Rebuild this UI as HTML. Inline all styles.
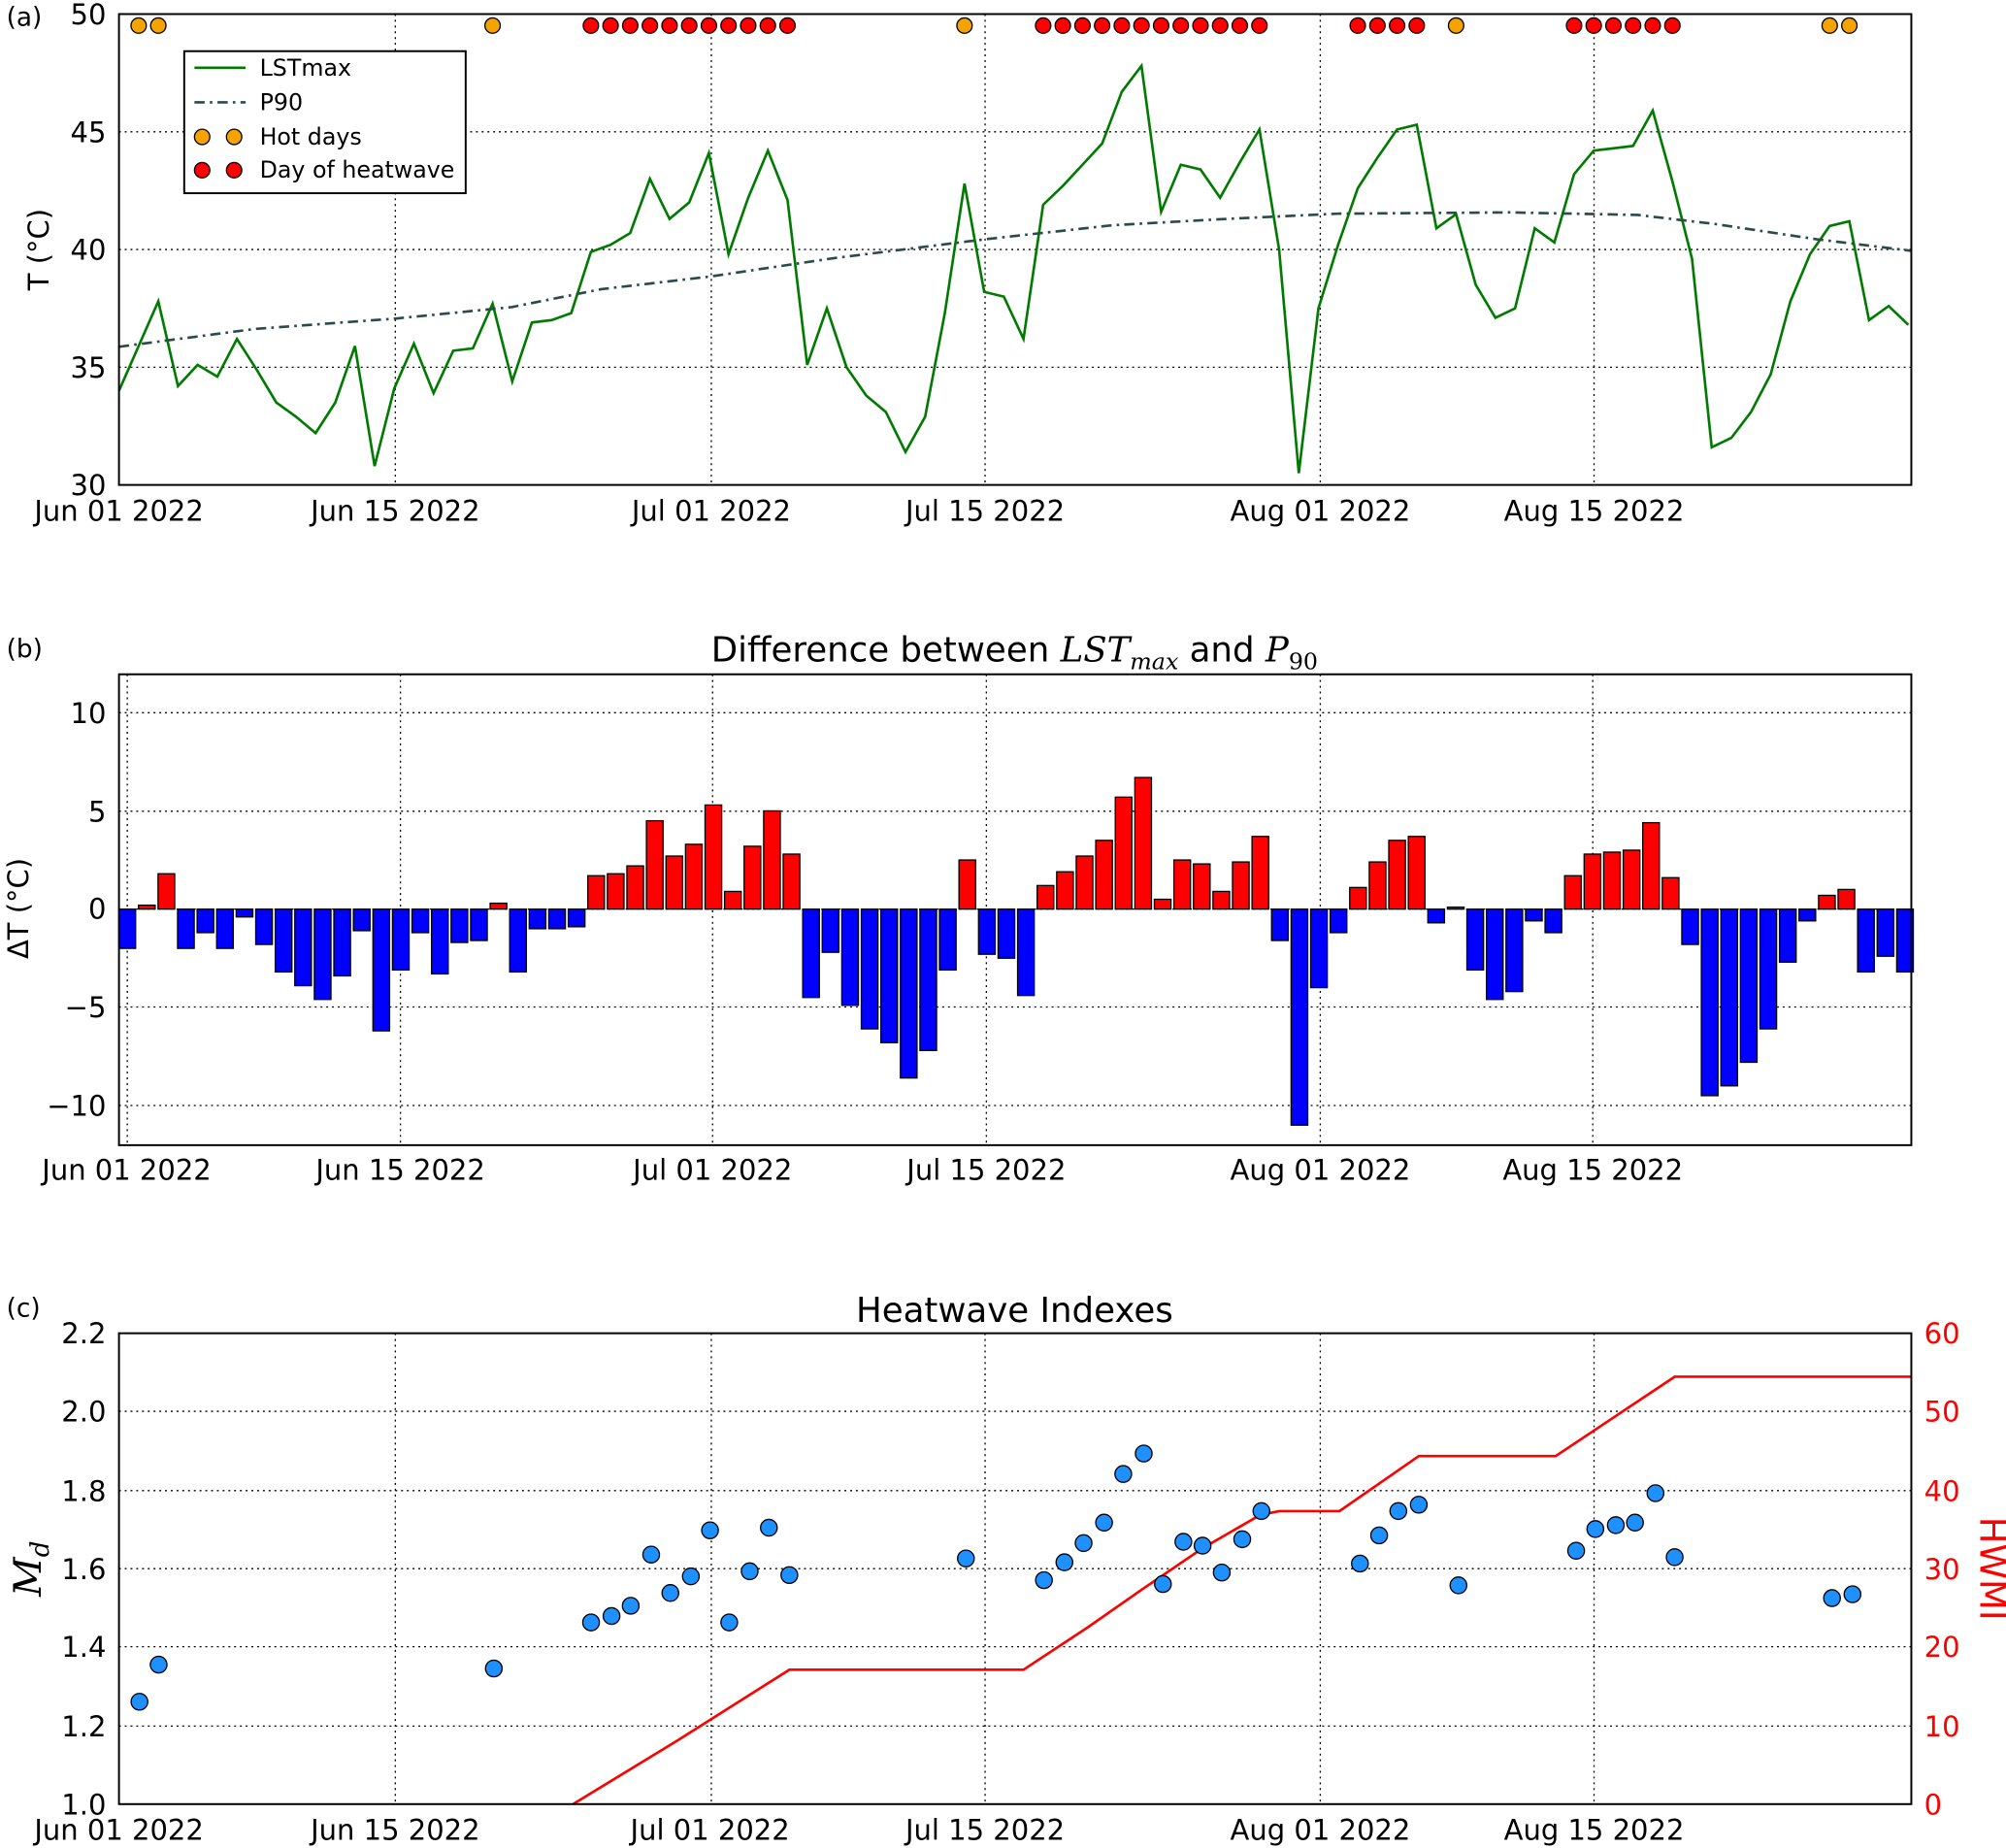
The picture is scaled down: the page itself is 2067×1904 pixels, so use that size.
<!DOCTYPE html>
<html><head><meta charset="utf-8"><style>body{margin:0;background:#fff}svg{display:block}text{font-family:"DejaVu Sans","Liberation Sans",sans-serif;fill:#000}</style></head>
<body>
<svg id="s" xmlns="http://www.w3.org/2000/svg" width="2067" height="1904" viewBox="0 0 1568 1444.3" preserveAspectRatio="none">
<rect width="1568" height="1445" fill="#fff"/>
<g id="grid" stroke="#000" stroke-width="1" stroke-dasharray="1.5,3"></g>
<g id="plot"></g>
<rect x="93" y="11" width="1401" height="368" fill="none" stroke="#000" stroke-width="1.5"/>
<rect x="93" y="527" width="1401" height="368" fill="none" stroke="#000" stroke-width="1.5"/>
<rect x="93" y="1042" width="1401" height="368" fill="none" stroke="#000" stroke-width="1.5"/>
<g font-size="22">
<text x="5" y="20" font-size="20">(a)</text>
<g text-anchor="end"><text x="83" y="19">50</text><text x="83" y="111">45</text><text x="83" y="203">40</text><text x="83" y="295">35</text><text x="83" y="387">30</text></g>
<g text-anchor="middle"><text x="93" y="407">Jun 01 2022</text><text x="309" y="407">Jun 15 2022</text><text x="556" y="407">Jul 01 2022</text><text x="770" y="407">Jul 15 2022</text><text x="1032" y="407">Aug 01 2022</text><text x="1246" y="407">Aug 15 2022</text></g>
<text transform="translate(38,195) rotate(-90)" text-anchor="middle">T (°C)</text>
<text x="5" y="514" font-size="20">(b)</text>
<text x="793" y="517" text-anchor="middle" font-size="27">Difference between <tspan font-family="DejaVu Serif,serif" font-style="italic">LST</tspan><tspan font-family="DejaVu Serif,serif" font-style="italic" font-size="18" dy="6">max</tspan><tspan dy="-6"> and </tspan><tspan font-family="DejaVu Serif,serif" font-style="italic">P</tspan><tspan font-family="DejaVu Serif,serif" font-size="18" dy="6">90</tspan></text>
<g text-anchor="end"><text x="83" y="565">10</text><text x="83" y="642">5</text><text x="83" y="718">0</text><text x="83" y="795">−5</text><text x="83" y="872">−10</text></g>
<g text-anchor="middle"><text x="99" y="922">Jun 01 2022</text><text x="313" y="922">Jun 15 2022</text><text x="557" y="922">Jul 01 2022</text><text x="771" y="922">Jul 15 2022</text><text x="1032" y="922">Aug 01 2022</text><text x="1245" y="922">Aug 15 2022</text></g>
<text transform="translate(22,710) rotate(-90)" text-anchor="middle">ΔT (°C)</text>
<text x="5" y="1029" font-size="20">(c)</text>
<text x="793" y="1033" text-anchor="middle" font-size="27">Heatwave Indexes</text>
<g text-anchor="end"><text x="83" y="1050">2.2</text><text x="83" y="1111">2.0</text><text x="83" y="1173">1.8</text><text x="83" y="1234">1.6</text><text x="83" y="1295">1.4</text><text x="83" y="1357">1.2</text><text x="83" y="1418">1.0</text></g>
<g style="fill:#f00"><text x="1504" y="1050" style="fill:#f00">60</text><text x="1504" y="1111" style="fill:#f00">50</text><text x="1504" y="1173" style="fill:#f00">40</text><text x="1504" y="1234" style="fill:#f00">30</text><text x="1504" y="1295" style="fill:#f00">20</text><text x="1504" y="1357" style="fill:#f00">10</text><text x="1504" y="1418" style="fill:#f00">0</text></g>
<g text-anchor="middle"><text x="93" y="1438">Jun 01 2022</text><text x="309" y="1438">Jun 15 2022</text><text x="555" y="1438">Jul 01 2022</text><text x="770" y="1438">Jul 15 2022</text><text x="1032" y="1438">Aug 01 2022</text><text x="1246" y="1438">Aug 15 2022</text></g>
<text transform="translate(32,1226) rotate(-90)" text-anchor="middle" font-family="DejaVu Serif,serif" font-style="italic" font-size="30" style="font-family:'DejaVu Serif',serif">M<tspan font-size="20" dy="6">d</tspan></text>
<text transform="translate(1548,1226) rotate(90)" text-anchor="middle" font-size="28" style="fill:#f00">HWMI</text>
<rect x="144" y="40" width="220" height="111" fill="#fff" stroke="#000" stroke-width="1.5"/>
<line x1="152" y1="53" x2="192" y2="53" stroke="#007a00" stroke-width="2"/>
<line x1="152" y1="80" x2="192" y2="80" stroke="#2b4b4b" stroke-width="2" stroke-dasharray="8,4,2,4"/>
<circle cx="158" cy="107" r="6" fill="#f5a300" stroke="#000"/><circle cx="183" cy="107" r="6" fill="#f5a300" stroke="#000"/>
<circle cx="158" cy="133" r="6" fill="#f00" stroke="#000"/><circle cx="183" cy="133" r="6" fill="#f00" stroke="#000"/>
<g font-size="18"><text x="203" y="59">LSTmax</text><text x="203" y="86">P90</text><text x="203" y="113">Hot days</text><text x="203" y="139">Day of heatwave</text></g>
</g>
</svg>
<script>
const NS="http://www.w3.org/2000/svg";
const plot=document.getElementById('plot'),grid=document.getElementById('grid');
function el(t,a,p){const e=document.createElementNS(NS,t);for(const k in a)e.setAttribute(k,a[k]);(p||plot).appendChild(e);return e;}
[309,556,770,1032,1246].forEach(x=>{el('line',{x1:x,y1:11,x2:x,y2:379},grid);el('line',{x1:x,y1:1042,x2:x,y2:1410},grid);});
[313,557,771,1032,1245,99.5].forEach(x=>el('line',{x1:x,y1:527,x2:x,y2:895},grid));
[103,195,287].forEach(y=>el('line',{x1:93,y1:y,x2:1494,y2:y},grid));
[557,634,710.5,787,864].forEach(y=>el('line',{x1:93,y1:y,x2:1494,y2:y},grid));
[1103,1165,1226,1287,1349].forEach(y=>el('line',{x1:93,y1:y,x2:1494,y2:y},grid));
const L=[34.0,35.9,37.8,34.2,35.1,34.6,36.2,34.9,33.5,32.9,32.2,33.5,35.9,30.8,34.1,36.0,33.9,35.7,35.8,37.7,34.4,36.9,37.0,37.3,39.9,40.2,40.7,43.0,41.3,42.0,44.1,39.8,42.2,44.2,42.1,35.1,37.5,35.0,33.8,33.1,31.4,32.9,37.3,42.8,38.2,38.0,36.2,41.9,42.7,43.6,44.5,46.7,47.8,41.6,43.6,43.4,42.2,43.7,45.1,40.0,30.5,37.5,40.2,42.6,43.9,45.1,45.3,40.9,41.5,38.5,37.1,37.5,40.9,40.3,43.2,44.2,44.3,44.4,45.9,42.9,39.6,31.6,32.0,33.1,34.7,37.8,39.8,41.0,41.2,37.0,37.6,36.8];
const xa=d=>93+15.37*d, ya=t=>11+(50-t)*18.4;
el('polyline',{points:L.map((t,d)=>xa(d)+','+ya(t)).join(' '),fill:'none',stroke:'#007a00','stroke-width':2});
el('polyline',{points:'93,271 200,257 309,249 400,240 470,226 556,216 650,202 770,187 870,176 960,171 1045,167 1180,166 1280,168 1340,175 1420,187 1494,196',fill:'none',stroke:'#2b4b4b','stroke-width':2,'stroke-dasharray':'8,4,2,4'});
const hot=[1,2,19,43,68,87,88];
const hw=[];[[24,34],[47,58],[63,66],[74,79]].forEach(([a,b])=>{for(let i=a;i<=b;i++)hw.push(i);});
hot.forEach(d=>el('circle',{cx:xa(d),cy:20,r:6,fill:'#f5a300',stroke:'#000'}));
hw.forEach(d=>el('circle',{cx:xa(d),cy:20,r:6,fill:'#f00',stroke:'#000'}));
const D=[-2.0,0.2,1.8,-2.0,-1.2,-2.0,-0.4,-1.8,-3.2,-3.9,-4.6,-3.4,-1.1,-6.2,-3.1,-1.2,-3.3,-1.7,-1.6,0.3,-3.2,-1.0,-1.0,-0.9,1.7,1.8,2.2,4.5,2.7,3.3,5.3,0.9,3.2,5.0,2.8,-4.5,-2.2,-4.9,-6.1,-6.8,-8.6,-7.2,-3.1,2.5,-2.3,-2.5,-4.4,1.2,1.9,2.7,3.5,5.7,6.7,0.5,2.5,2.3,0.9,2.4,3.7,-1.6,-11.0,-4.0,-1.2,1.1,2.4,3.5,3.7,-0.7,0.1,-3.1,-4.6,-4.2,-0.6,-1.2,1.7,2.8,2.9,3.0,4.4,1.6,-1.8,-9.5,-9.0,-7.8,-6.1,-2.7,-0.6,0.7,1.0,-3.2,-2.4,-3.2];
D.forEach((v,d)=>{const cx=99.5+15.27*d,y0=710.5,y1=710.5-v*15.35;el('rect',{x:cx-6.5,y:Math.min(y0,y1),width:13,height:Math.abs(y1-y0),fill:v>=0?'#f00':'#00f',stroke:'#000','stroke-width':1});});
el('polyline',{points:'448,1410 530,1360 617,1305 800,1305 850,1272 893,1242 940,1210 985,1184 1000,1181 1047,1181 1109,1138 1216,1138 1309,1076 1494,1076',fill:'none',stroke:'#f00','stroke-width':2});
[[109,1330],[124,1301],[386,1304],[462,1268],[478,1263],[493,1255],[509,1215],[524,1245],[540,1232],[555,1196],[570,1268],[586,1228],[601,1194],[617,1231],[755,1218],[816,1235],[832,1221],[847,1206],[863,1190],[878,1152],[894,1136],[909,1238],[925,1205],[940,1208],[955,1229],[971,1203],[986,1181],[1063,1222],[1078,1200],[1093,1181],[1109,1176],[1140,1239],[1232,1212],[1247,1195],[1263,1192],[1278,1190],[1294,1167],[1309,1217],[1432,1249],[1448,1246]].forEach(([x,y])=>el('circle',{cx:x,cy:y,r:6.5,fill:'#1e90ff',stroke:'#000'}));
</script>
</body></html>
